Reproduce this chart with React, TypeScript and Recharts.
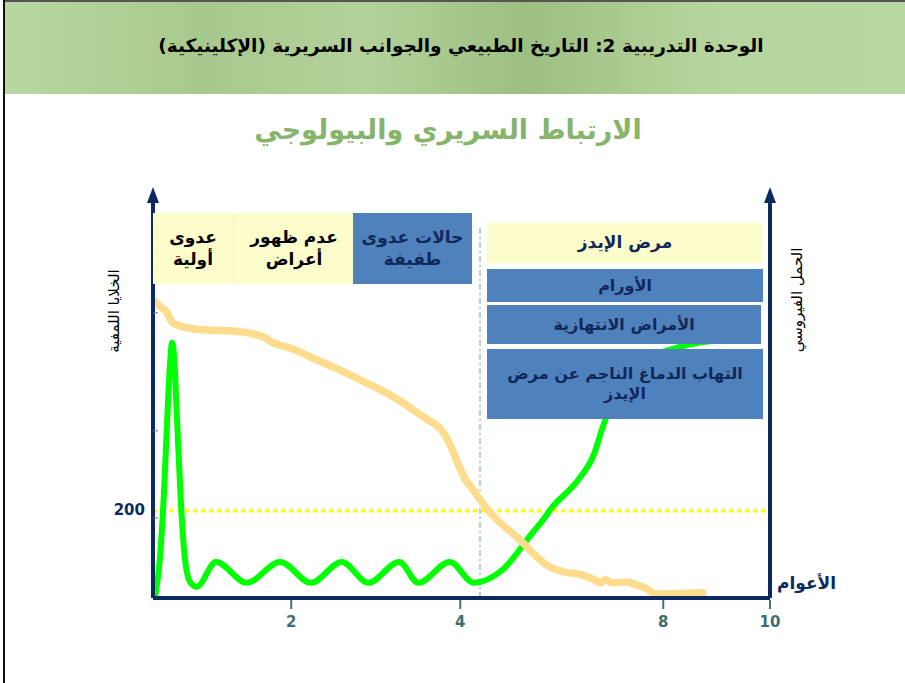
import React from 'react';
import { ComposedChart, Line, XAxis, YAxis, ReferenceLine } from 'recharts';

// Horizontal positions are in axis units (0..100 across the time axis), values in 0..100 of plot height
const viralX = [0.3, 1.1, 1.8, 2.3, 2.8, 3.1, 3.4, 3.9, 4.5, 5.2, 6.0, 7.1, 10.2, 15.2, 20.6, 25.6, 30.6, 34.9, 39.9, 43.0, 48.1, 52.0, 56.6, 61.6, 63.1, 64.5, 68.9, 71.3, 73.3, 75.7, 79.7, 85.4, 91.9];
const viralY = [0, 9.5, 27, 44.5, 59.5, 63.8, 60.8, 44.5, 24.5, 9.5, 4, 2.8, 9, 3.8, 9, 3.8, 9, 3.8, 9, 3.8, 9, 3.8, 7, 16.5, 19.3, 22.3, 29.5, 35.3, 44.5, 51.5, 59, 62.8, 64.5];

const cd4X = [0, 1.1, 2.3, 3.2, 4.9, 8.8, 12.5, 17.8, 19.5, 22.2, 27.6, 30.3, 33.6, 38.4, 43.3, 47.3, 50.7, 51.9, 54.3, 55.8, 59.5, 62.2, 63.7, 66.6, 69.5, 71.6, 72.5, 73.3, 74.4, 76.8, 78.3, 80.4, 81.2, 89.1];
const cd4Y = [74.5, 73, 71.3, 68.8, 67.8, 67, 66.8, 65.3, 63.8, 62.5, 58.8, 57, 54.5, 50.8, 45.8, 40.8, 29.5, 27, 22, 19.5, 14.5, 10.3, 8.3, 6.5, 5.8, 4.5, 3.8, 4.6, 3.8, 4, 3.3, 2, 1, 1.3];

const xTickPos = [22.4, 49.8, 82.7, 100];
const xTickLabels = ['2', '4', '8', '10'];
const yTickPos = [20, 41.8, 71.3];
const yTickLabels = ['200', '', ''];
const threshold200 = 21.8;
const aidsOnset = 53.0;

const headerText = 'الوحدة التدريبية 2: التاريخ الطبيعي والجوانب السريرية (الإكلينيكية)';
const titleText = 'الارتباط السريري والبيولوجي';
const leftAxisLabel = 'الخلايا اللمفية';
const rightAxisLabel = 'الحمل الفيروسي';
const xAxisLabel = 'الأعوام';

const viralData = viralX.map((x, i) => ({ x, y: viralY[i] }));
const cd4Data = cd4X.map((x, i) => ({ x, y: cd4Y[i] }));

const NAVY = '#0c2a60';
const FONT = '"DejaVu Sans", sans-serif';

const LeftTick = (props: any) => {
  const { x, y, index } = props;
  return (
    <g>
      <line x1={x + 2} x2={x + 7} y1={y} y2={y} stroke="#5a7a7a" strokeWidth={1} />
      {yTickLabels[index] ? (
        <text x={x - 6} y={y - 8} textAnchor="end" dominantBaseline="central" fill={NAVY} fontWeight="bold" fontSize={15} fontFamily={FONT}>
          {yTickLabels[index]}
        </text>
      ) : null}
    </g>
  );
};

const BottomTick = (props: any) => {
  const { x, y, payload } = props;
  const i = xTickPos.indexOf(payload.value);
  return (
    <g>
      <line x1={x} x2={x} y1={y} y2={y + 9} stroke="#4a7070" strokeWidth={2} />
      <text x={x} y={y + 22} textAnchor="middle" dominantBaseline="central" fill="#3f6e6e" fontWeight="bold" fontSize={15} fontFamily={FONT}>
        {xTickLabels[i] ?? ''}
      </text>
    </g>
  );
};

const box = (left: number, top: number, width: number, height: number, bg: string, color: string, fontSize: number, content: React.ReactNode, extra: any = {}) => (
  <div
    style={{
      position: 'absolute', left, top, width, height, background: bg, color,
      fontSize, fontWeight: 'bold', fontFamily: FONT, direction: 'rtl',
      display: 'flex', alignItems: 'center', justifyContent: 'center', textAlign: 'center', lineHeight: 1.25,
      ...extra,
    }}
  >
    {content}
  </div>
);

export default function App() {
  return (
    <div style={{ position: 'absolute', left: 0, top: 0, width: 905, height: 683, background: '#fff', overflow: 'hidden', fontFamily: FONT }}>
      {/* header band */}
      <div style={{
        position: 'absolute', left: 5, top: 0, width: 900, height: 92, borderTop: '2px solid #555',
        background: 'linear-gradient(90deg, #b9d7a1 0%, #a8c98d 22%, #b3d29a 40%, #9dbf82 58%, #b6d59d 78%, #b9d8a1 100%)',
      }} />
      <div style={{ position: 'absolute', left: 3, top: 0, width: 2, height: 683, background: '#111' }} />
      <div style={{ position: 'absolute', left: 100, top: 30, width: 722, height: 32, textAlign: 'center', direction: 'rtl', fontSize: 18.5, fontWeight: 'bold', color: '#000', lineHeight: '32px' }}>
        {headerText}
      </div>
      <div style={{ position: 'absolute', left: 150, top: 108, width: 596, height: 44, textAlign: 'center', direction: 'rtl', fontSize: 27, fontWeight: 'bold', color: '#86b46b', lineHeight: '44px' }}>
        {titleText}
      </div>

      <div style={{ position: 'absolute', left: 0, top: 0 }}>
        <ComposedChart width={905} height={683} margin={{ top: 198, right: 95, bottom: 45, left: 113 }}>
          <XAxis
            type="number"
            dataKey="x"
            domain={[0, 100]}
            ticks={xTickPos}
            axisLine={{ stroke: NAVY, strokeWidth: 4 }}
            tickLine={false}
            tick={<BottomTick />}
            tickSize={0}
            height={40}
            allowDataOverflow
          />
          <YAxis
            yAxisId="l"
            type="number"
            domain={[0, 100]}
            ticks={yTickPos}
            axisLine={{ stroke: NAVY, strokeWidth: 4 }}
            tickLine={false}
            tickSize={0}
            tick={<LeftTick />}
            width={40}
            allowDataOverflow
          />
          <YAxis
            yAxisId="r"
            orientation="right"
            type="number"
            domain={[0, 100]}
            axisLine={{ stroke: NAVY, strokeWidth: 4 }}
            tickLine={false}
            tick={false}
            width={40}
          />
          <ReferenceLine yAxisId="l" y={threshold200} stroke="#ffff00" strokeWidth={3.5} strokeDasharray="4 4" />
          <ReferenceLine
            yAxisId="l"
            segment={[{ x: aidsOnset, y: 0 }, { x: aidsOnset, y: 92.5 }]}
            stroke="#7c9c9c"
            strokeWidth={1}
            strokeDasharray="6 3 2 3"
          />
          <Line yAxisId="l" data={viralData} dataKey="y" type="monotone" stroke="#00ff00" strokeWidth={6} dot={false} isAnimationActive={false} strokeLinecap="round" />
          <Line yAxisId="l" data={cd4Data} dataKey="y" type="monotone" stroke="#fddc8e" strokeWidth={7.5} dot={false} isAnimationActive={false} strokeLinecap="round" />
        </ComposedChart>
      </div>

      {/* axis arrowheads */}
      <svg width={905} height={683} style={{ position: 'absolute', left: 0, top: 0, pointerEvents: 'none' }}>
        <polygon points="147,203 153,187 159,203" fill={NAVY} />
        <polygon points="764,203 770,187 776,203" fill={NAVY} />
      </svg>

      {/* phase boxes */}
      {box(153, 213, 80, 71, '#fdfdcc', '#000', 17, <span>عدوى<br />أولية</span>)}
      {box(233, 213, 120, 71, '#fdfdcc', '#000', 17, <span>عدم ظهور<br />أعراض</span>, { borderLeft: '1px solid #f3f3c0' })}
      {box(353, 213, 119, 71, '#4f81bd', '#10285a', 17, <span>حالات عدوى<br />طفيفة</span>)}

      {box(487, 223, 276, 40, '#fdfdcc', '#10285a', 17, <span>مرض الإيدز</span>)}
      {box(487, 269, 276, 33, '#4f81bd', '#10285a', 16, <span>الأورام</span>)}
      {box(487, 305, 274, 39, '#4f81bd', '#10285a', 16, <span>الأمراض الانتهازية</span>)}
      {box(487, 349, 276, 70, '#4f81bd', '#10285a', 16, <span>التهاب الدماغ الناجم عن مرض<br />الإيدز</span>)}

      {/* axis labels */}
      <div style={{ position: 'absolute', left: 114 - 70, top: 311 - 11, width: 140, height: 22, transform: 'rotate(-90deg)', textAlign: 'center', direction: 'rtl', fontSize: 15, color: '#000', lineHeight: '22px' }}>
        {leftAxisLabel}
      </div>
      <div style={{ position: 'absolute', left: 797 - 70, top: 300 - 11, width: 140, height: 22, transform: 'rotate(-90deg)', textAlign: 'center', direction: 'rtl', fontSize: 15, color: '#000', lineHeight: '22px' }}>
        {rightAxisLabel}
      </div>
      <div style={{ position: 'absolute', left: 778, top: 570, width: 58, height: 26, textAlign: 'center', direction: 'rtl', fontSize: 17, fontWeight: 'bold', color: NAVY, lineHeight: '26px' }}>
        {xAxisLabel}
      </div>
    </div>
  );
}
